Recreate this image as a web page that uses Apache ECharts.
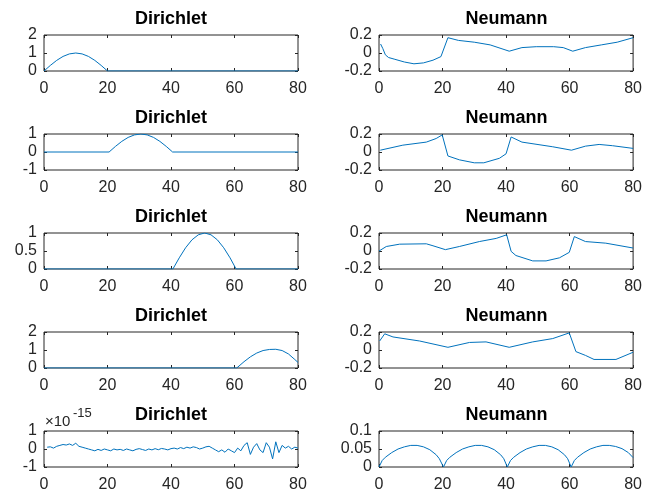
<!DOCTYPE html>
<html>
<head>
<meta charset="utf-8">
<title>Dirichlet / Neumann</title>
<script src="https://cdn.jsdelivr.net/npm/echarts@6/dist/echarts.min.js"></script>
</head>
<body style="margin:0;background:#fff">
<div id="chartmain" style="width:645px;height:500px;"></div>
<script type="text/javascript">
// values, [x] and [y] kept apart for every panel

// Dirichlet column
var dir1X = [0, 2, 4, 6, 8, 10, 12, 14, 16, 18, 20, 80];
var dir1Y = [0, 0.31, 0.59, 0.81, 0.95, 1.0, 0.95, 0.81, 0.59, 0.31, 0, 0];

var dir2X = [0, 20.5, 22.5, 24.5, 26.5, 28.5, 30.5, 32.5, 34.5, 36.5, 38.5, 40.5, 80];
var dir2Y = [0, 0, 0.31, 0.59, 0.81, 0.95, 1.0, 0.95, 0.81, 0.59, 0.31, 0, 0];

var dir3X = [0, 40.6, 42.6, 44.6, 46.6, 48.6, 50.6, 52.6, 54.6, 56.6, 58.6, 60.5, 80];
var dir3Y = [0, 0, 0.31, 0.59, 0.81, 0.95, 1.0, 0.95, 0.81, 0.59, 0.31, 0, 0];

var dir4X = [0, 60.7, 63, 65, 67, 69, 71, 73, 75, 77, 79, 80];
var dir4Y = [0, 0, 0.35, 0.62, 0.83, 0.97, 1.03, 1.04, 0.97, 0.78, 0.47, 0.31];

// last Dirichlet panel is round-off noise, in units of 1e-15, one value per sample 1..80
var dir5Noise = [
  0.1, 0.12, 0.05, 0.15, 0.2, 0.25, 0.22, 0.28, 0.2, 0.32,
  0.15, 0.1, 0.05, 0.0, -0.05, -0.1, -0.02, -0.08, 0.0, -0.05,
  -0.1, 0.0, -0.05, -0.02, -0.08, 0.0, -0.05, -0.1, -0.02, 0.02,
  -0.03, -0.08, 0.0, -0.05, 0.02, -0.04, 0.03, 0.0, -0.05, 0.02,
  0.05, 0.0, 0.08, 0.02, 0.1, 0.05, 0.12, 0.08, 0.0, 0.05,
  0.12, 0.15, 0.05, -0.05, -0.15, -0.05, -0.18, 0.0, -0.1, -0.2,
  0.05, -0.1, 0.2, 0.35, -0.3, 0.1, 0.3, -0.05, -0.2, 0.35,
  0.1, -0.55, 0.4, -0.2, 0.2, 0.05, 0.15, 0.0, 0.1, 0.05
];

// Neumann column
var neu1X = [0.5, 1.2, 2, 3, 5, 8, 11, 14, 17, 19.5, 21.7, 25, 30, 35, 41, 45, 49.5, 55, 58, 61, 65, 70, 75, 80];
var neu1Y = [0.1, 0.05, -0.02, -0.05, -0.07, -0.1, -0.12, -0.11, -0.08, -0.04, 0.17, 0.14, 0.12, 0.09, 0.02, 0.06, 0.07, 0.07, 0.06, 0.02, 0.06, 0.09, 0.12, 0.17];

var neu2X = [0.4, 7.5, 14.9, 18, 19.9, 21.7, 25.3, 30, 33, 37.9, 40, 41.6, 45, 54.7, 60.6, 65, 69.3, 73.5, 80];
var neu2Y = [0.02, 0.076, 0.11, 0.15, 0.19, -0.044, -0.087, -0.12, -0.12, -0.07, -0.02, 0.167, 0.11, 0.058, 0.02, 0.065, 0.084, 0.07, 0.04];

var neu3X = [0, 2.3, 6.5, 14.9, 17, 20.9, 25.3, 31.6, 36.9, 40.2, 41.6, 43.1, 48.4, 52.6, 56.8, 59.9, 61.5, 65, 71.4, 80];
var neu3Y = [0, 0.05, 0.076, 0.08, 0.058, 0.015, 0.05, 0.105, 0.14, 0.18, -0.004, -0.05, -0.11, -0.11, -0.076, -0.015, 0.16, 0.105, 0.087, 0.033];

var neu4X = [0.2, 1.8, 4.4, 12.8, 21.7, 28.5, 33.7, 41, 48.4, 54.7, 59.9, 62, 65, 67.7, 74.6, 80];
var neu4Y = [0.1, 0.18, 0.145, 0.1, 0.03, 0.084, 0.09, 0.03, 0.09, 0.127, 0.19, -0.018, -0.06, -0.105, -0.105, -0.025];

var neu5X = [0, 1, 2, 4, 6, 8, 10, 12, 14, 16, 18, 19, 20.3,
             21.3, 22.3, 24.3, 26.3, 28.3, 30.3, 32.3, 34.3, 36.3, 38.3, 39.3, 40.4,
             41.4, 42.4, 44.4, 46.4, 48.4, 50.4, 52.4, 54.4, 56.4, 58.4, 59.4, 60.5,
             61.5, 62.5, 64.5, 66.5, 68.5, 70.5, 72.5, 74.5, 76.5, 78.5, 80];
var neu5Y = [0, 0.018, 0.027, 0.04, 0.05, 0.056, 0.06, 0.06, 0.056, 0.048, 0.034, 0.023, 0,
             0.018, 0.027, 0.04, 0.05, 0.056, 0.06, 0.06, 0.056, 0.048, 0.034, 0.023, 0,
             0.018, 0.027, 0.04, 0.05, 0.056, 0.06, 0.06, 0.056, 0.048, 0.034, 0.023, 0,
             0.018, 0.027, 0.04, 0.05, 0.056, 0.06, 0.06, 0.057, 0.051, 0.04, 0.026];

var xTicks = [0, 80, 20];          // min, max, step
var dirRanges = [[0, 2, 1], [-1, 1, 1], [0, 1, 0.5], [0, 2, 1], [-1, 1, 1]];
var neuRanges = [[-0.2, 0.2, 0.2], [-0.2, 0.2, 0.2], [-0.2, 0.2, 0.2], [-0.2, 0.2, 0.2], [0, 0.1, 0.05]];

function zip(xs, ys) {
    var out = [];
    for (var i = 0; i < xs.length; i++) out.push([xs[i], ys[i]]);
    return out;
}

var dir5X = [];
for (var k = 0; k < dir5Noise.length; k++) dir5X.push(k + 1);   // sample positions

var dirData = [zip(dir1X, dir1Y), zip(dir2X, dir2Y), zip(dir3X, dir3Y), zip(dir4X, dir4Y), zip(dir5X, dir5Noise)];
var neuData = [zip(neu1X, neu1Y), zip(neu2X, neu2Y), zip(neu3X, neu3Y), zip(neu4X, neu4Y), zip(neu5X, neu5Y)];

// layout of the 5x2 subplot grid
var colLeft = [44, 379];
var colWidth = [254, 255];
var rowTop = [35, 134, 233, 332, 431];
var boxH = 36;
var ink = '#262626';
var lineBlue = '#0072BD';
var font = 'Liberation Sans, Arial, sans-serif';

var option = {
    backgroundColor: '#fff',
    animation: false,
    title: [],
    grid: [],
    xAxis: [],
    yAxis: [],
    series: []
};

function addPanel(r, c, name, range, data) {
    var g = option.grid.length;
    option.grid.push({
        left: colLeft[c], top: rowTop[r], width: colWidth[c], height: boxH,
        show: true, borderColor: ink, borderWidth: 1, backgroundColor: '#fff'
    });
    option.title.push({
        text: name, left: colLeft[c] + colWidth[c] / 2, top: rowTop[r] - 25,
        textAlign: 'center', padding: 0,
        textStyle: { fontFamily: font, fontSize: 18, fontWeight: 'bold', color: '#000' }
    });
    var tick = { inside: true, length: 3, lineStyle: { color: ink } };
    // bottom x axis with labels, top one only for the inside ticks
    option.xAxis.push({
        type: 'value', gridIndex: g, position: 'bottom',
        min: xTicks[0], max: xTicks[1], interval: xTicks[2],
        axisLine: { show: false, onZero: false }, axisTick: tick, splitLine: { show: false },
        axisLabel: { fontFamily: font, fontSize: 16, color: ink, margin: 10 }
    });
    option.xAxis.push({
        type: 'value', gridIndex: g, position: 'top',
        min: xTicks[0], max: xTicks[1], interval: xTicks[2],
        axisLine: { show: false, onZero: false }, axisTick: tick, splitLine: { show: false },
        axisLabel: { show: false }
    });
    option.yAxis.push({
        type: 'value', gridIndex: g, position: 'left',
        min: range[0], max: range[1], interval: range[2],
        axisLine: { show: false, onZero: false }, axisTick: tick, splitLine: { show: false },
        axisLabel: { fontFamily: font, fontSize: 16, color: ink, margin: 7 }
    });
    option.yAxis.push({
        type: 'value', gridIndex: g, position: 'right',
        min: range[0], max: range[1], interval: range[2],
        axisLine: { show: false, onZero: false }, axisTick: tick, splitLine: { show: false },
        axisLabel: { show: false }
    });
    option.series.push({
        type: 'line', xAxisIndex: 2 * g, yAxisIndex: 2 * g,
        data: data, showSymbol: false, symbol: 'none', clip: true,
        lineStyle: { color: lineBlue, width: 1 }
    });
}

for (var r = 0; r < 5; r++) {
    addPanel(r, 0, 'Dirichlet', dirRanges[r], dirData[r]);
    addPanel(r, 1, 'Neumann', neuRanges[r], neuData[r]);
}

// the x10^-15 exponent over the last Dirichlet panel
option.title.push({
    text: '×10', left: 45, top: rowTop[4] - 17, padding: 0,
    textStyle: { fontFamily: font, fontSize: 15, fontWeight: 'normal', color: ink }
});
option.title.push({
    text: '-15', left: 73, top: rowTop[4] - 24, padding: 0,
    textStyle: { fontFamily: font, fontSize: 13, fontWeight: 'normal', color: ink }
});

var myChart = echarts.init(document.getElementById('chartmain'));
myChart.setOption(option);
</script>
</body>
</html>
